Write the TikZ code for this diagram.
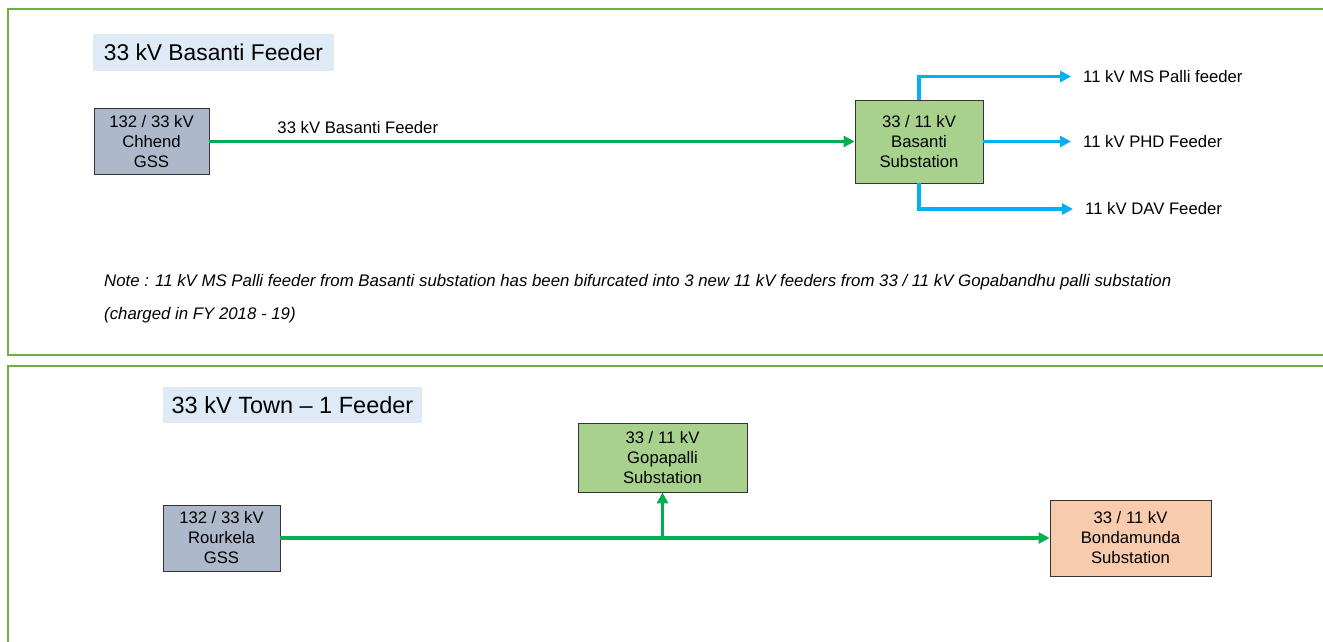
\documentclass[tikz,border=0pt]{standalone}
\usepackage{fontspec}
\setmainfont{Liberation Sans}
\usetikzlibrary{arrows.meta}
\definecolor{framegreen}{HTML}{70AD47}
\definecolor{titleblue}{HTML}{DEEBF7}
\definecolor{gssgray}{HTML}{ADB9CA}
\definecolor{subgreen}{HTML}{A9D18E}
\definecolor{subpeach}{HTML}{F8CBAD}
\definecolor{linegreen}{HTML}{00B050}
\definecolor{lineblue}{HTML}{00B0F0}
\tikzset{
  panel/.style={draw=framegreen, line width=1.6pt},
  titlebox/.style={fill=titleblue, inner sep=0pt, font=\fontsize{22.8}{26}\selectfont},
  stationbox/.style={draw=black!80, line width=0.8pt, align=center, inner sep=0pt, font=\fontsize{16.7}{20}\selectfont},
  feedgreen/.style={draw=linegreen, line width=3.6pt, -{Triangle[length=11pt,width=11pt]}},
  feedblue/.style={draw=lineblue, line width=3.6pt, -{Triangle[length=11pt,width=11pt]}},
  flabel/.style={font=\fontsize{16.7}{19}\selectfont, inner ysep=0pt, inner xsep=12pt, anchor=west},
  notetext/.style={font=\fontsize{16.8}{19}\selectfont\itshape, inner sep=0pt, anchor=west}
}
\begin{document}
\begin{tikzpicture}[x=1pt,y=-1pt]
\useasboundingbox (0,0) rectangle (1323,641);
\fill[white] (0,0) rectangle (1323,641);
% panels
\draw[panel] (8,9) rectangle (1335,355);
\draw[panel] (8,366) rectangle (1335,660);
% top panel
\node[titlebox, minimum width=241pt, minimum height=37pt] (title1) at (213.5,52.5) {33 kV Basanti Feeder};
\node[stationbox, fill=gssgray, minimum width=115pt, minimum height=66pt] (chhend) at (151.5,141.5) {132 / 33 kV\\Chhend\\GSS};
\node[stationbox, fill=subgreen, minimum width=128pt, minimum height=83pt] (basanti) at (919,141.5) {33 / 11 kV\\Basanti\\Substation};
\draw[feedgreen] (chhend) -- node[pos=0.23, above=3pt, font=\fontsize{16.7}{19}\selectfont] (flab) {33 kV Basanti Feeder} (basanti);
\node[flabel] (ms) at (1071,76.5) {11 kV MS Palli feeder};
\node[flabel] (phd) at (1071,141.5) {11 kV PHD Feeder};
\node[flabel] (dav) at (1073,209) {11 kV DAV Feeder};
\draw[feedblue] (basanti.north) |- (ms);
\draw[feedblue] (basanti) -- (phd);
\draw[feedblue] (basanti.south) |- (dav);
\node[notetext] (note1) at (104,282) {Note : 11 kV MS Palli feeder from Basanti substation has been bifurcated into 3 new 11 kV feeders from 33 / 11 kV Gopabandhu palli substation};
\node[notetext] (note2) at (104,315) {(charged in FY 2018 - 19)};
% bottom panel
\node[titlebox, minimum width=259pt, minimum height=36pt, font=\fontsize{23.5}{26}\selectfont] (title2) at (292.5,405) {33 kV Town -- 1 Feeder};
\node[stationbox, fill=subgreen, minimum width=169pt, minimum height=69pt] (gopa) at (662.5,457.5) {33 / 11 kV\\Gopapalli\\Substation};
\node[stationbox, fill=gssgray, minimum width=117pt, minimum height=66pt] (rourkela) at (221.5,538) {132 / 33 kV\\Rourkela\\GSS};
\node[stationbox, fill=subpeach, minimum width=161pt, minimum height=76pt] (bonda) at (1130.5,538) {33 / 11 kV\\Bondamunda\\Substation};
\draw[feedgreen] (rourkela) -- (bonda);
\coordinate (junc) at (662.5,538);
\draw[feedgreen] (junc) -- (gopa);
\end{tikzpicture}
\end{document}
